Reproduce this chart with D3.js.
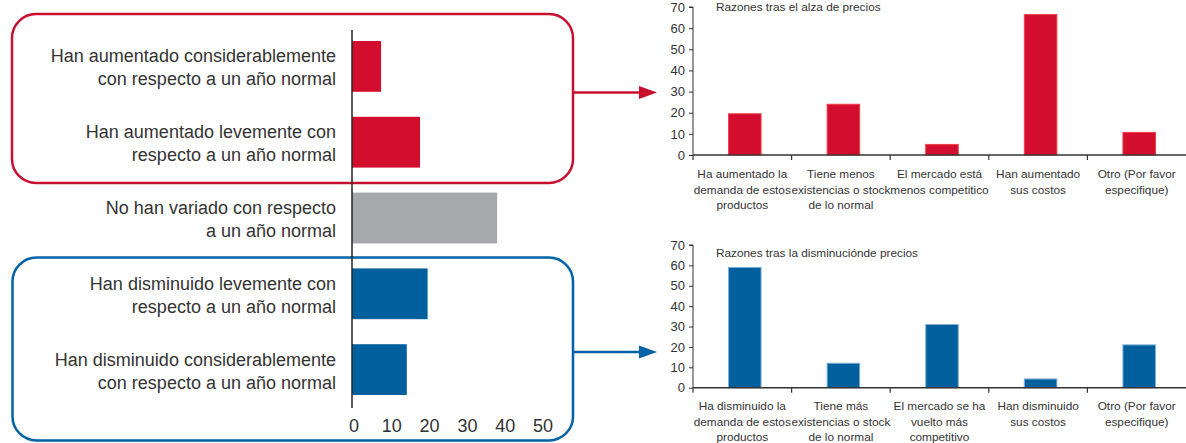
<!DOCTYPE html>
<html><head><meta charset="utf-8">
<script src="https://cdn.jsdelivr.net/npm/d3@7"></script>
<style>
html,body{margin:0;padding:0;background:#fff;}
svg{display:block;font-family:"Liberation Sans",Arial,sans-serif;}
</style></head>
<body>
<svg id="c" width="1186" height="443"></svg>
<script>
// ---- Data ----
const mainCategories = [
  ["Han aumentado considerablemente","con respecto a un año normal"],
  ["Han aumentado levemente con","respecto a un año normal"],
  ["No han variado con respecto","a un año normal"],
  ["Han disminuido levemente con","respecto a un año normal"],
  ["Han disminuido considerablemente","con respecto a un año normal"]
];
const mainValues = [7.7, 18, 38.4, 20, 14.5];
const mainGroups = ["up","up","flat","down","down"];
const mainTicks = [0,10,20,30,40,50];

const upTitle = "Razones tras el alza de precios";
const upCategories = [
  ["Ha aumentado la","demanda de estos","productos"],
  ["Tiene menos","existencias o stock","de lo normal"],
  ["El mercado está","menos competitico"],
  ["Han aumentado","sus costos"],
  ["Otro (Por favor","especifique)"]
];
const upValues = [19.5, 24, 5, 66.4, 10.7];

const downTitle = "Razones tras la disminuciónde precios";
const downCategories = [
  ["Ha disminuido la","demanda de estos","productos"],
  ["Tiene más","existencias o stock","de lo normal"],
  ["El mercado se ha","vuelto más","competitivo"],
  ["Han disminuido","sus costos"],
  ["Otro (Por favor","especifique)"]
];
const downValues = [59, 12, 31, 4.3, 21];
const sideTicks = [0,10,20,30,40,50,60,70];

const RED = "#d30d2e", BLUE = "#00609d", GRAY = "#a7a8ab";
const colorOf = {up: RED, flat: GRAY, down: BLUE};
const TEXT = "#333";

const svg = d3.select("#c");

// ---- Group boxes & arrows ----
svg.append("rect").attr("x",12).attr("y",14).attr("width",561).attr("height",169)
  .attr("rx",24).attr("ry",24).attr("fill","none").attr("stroke","#c8102e").attr("stroke-width",2.5);
svg.append("rect").attr("x",12.5).attr("y",257.5).attr("width",560.5).attr("height",183)
  .attr("rx",24).attr("ry",24).attr("fill","none").attr("stroke","#0063a6").attr("stroke-width",2.5);

function arrow(y, color){
  svg.append("line").attr("x1",573).attr("x2",641).attr("y1",y).attr("y2",y)
    .attr("stroke",color).attr("stroke-width",2.5);
  svg.append("path").attr("d",`M639,${y-6.5} L657,${y} L639,${y+6.5} Z`).attr("fill",color);
}
arrow(92.5, "#c8102e");
arrow(352, "#0063a6");

// ---- Main horizontal bar chart ----
const x = d3.scaleLinear().domain([0,50]).range([352, 541]);
const y = d3.scaleBand().domain(d3.range(mainValues.length)).range([28.5, 407.5]).paddingInner(0.33).paddingOuter(0.165);

svg.append("g").selectAll("rect").data(mainValues).join("rect")
  .attr("x", x(0)).attr("y",(d,i)=>y(i)).attr("width",d=>x(d)-x(0)).attr("height",y.bandwidth())
  .attr("fill",(d,i)=>colorOf[mainGroups[i]]);

svg.append("line").attr("x1",352).attr("x2",352).attr("y1",30).attr("y2",408)
  .attr("stroke","#222").attr("stroke-width",1.5);

const lab = svg.append("g").attr("font-size",18).attr("fill",TEXT).attr("text-anchor","end");
mainCategories.forEach((lines,i)=>{
  const cy = y(i)+y.bandwidth()/2;
  const t = lab.append("text").attr("x",336);
  lines.forEach((s,j)=>t.append("tspan").attr("x",336).attr("y",cy-4+j*23).text(s));
});

const xAxis = svg.append("g").attr("transform","translate(2,0)");
xAxis.selectAll("text").data(mainTicks).join("text")
  .attr("x",d=>x(d)).attr("y",432).attr("text-anchor","middle")
  .attr("font-size",18).attr("fill",TEXT).text(d=>d);

// ---- Side column charts ----
function sideChart(top, bottom, cats, vals, title, color, edge, titleY, labelY0){
  const xs = d3.scaleBand().domain(d3.range(cats.length)).range([695.5,1188.5]).paddingInner(0.67).paddingOuter(0.335);
  const xb = d3.scaleBand().domain(d3.range(cats.length)).range([693,1186]);
  const ys = d3.scaleLinear().domain([0,70]).range([bottom, top]);
  const g = svg.append("g");
  g.selectAll("rect").data(vals).join("rect")
    .attr("x",(d,i)=>xs(i)).attr("y",d=>ys(d)).attr("width",xs.bandwidth()).attr("height",d=>ys(0)-ys(d))
    .attr("fill",color).attr("stroke",edge).attr("stroke-width",1);
  // y axis
  const ya = g.append("g").attr("transform","translate(693,0)")
    .call(d3.axisLeft(ys).tickValues(sideTicks).tickSize(4).tickPadding(4));
  ya.select(".domain").attr("stroke","#333").attr("d",`M-4,${ys(70)}H0V${ys(0)}`);
  ya.selectAll("line").attr("stroke","#333");
  ya.selectAll("text").attr("font-size",13).attr("fill",TEXT).attr("font-family","Liberation Sans, Arial, sans-serif");
  // x axis
  g.append("line").attr("x1",693).attr("x2",1186).attr("y1",ys(0)).attr("y2",ys(0)).attr("stroke","#333").attr("stroke-width",1.5);
  g.selectAll(".bt").data(d3.range(cats.length)).join("line").attr("class","bt")
    .attr("x1",i=>xb(i)).attr("x2",i=>xb(i)).attr("y1",ys(0)).attr("y2",ys(0)+5).attr("stroke","#333").attr("stroke-width",1.2);
  // category labels
  cats.forEach((lines,i)=>{
    const cx = xb(i)+xb.bandwidth()/2;
    const t = g.append("text").attr("text-anchor","middle").attr("font-size",11.8).attr("fill",TEXT);
    lines.forEach((s,j)=>t.append("tspan").attr("x",cx).attr("y",labelY0+j*15.5).text(s));
  });
  g.append("text").attr("x",716).attr("y",titleY).attr("font-size",11.8).attr("fill",TEXT).text(title);
}
sideChart(7, 155, upCategories, upValues, upTitle, RED, "#ef4048", 10.5, 178);
sideChart(245, 387.7, downCategories, downValues, downTitle, BLUE, "#7fb0d6", 257, 410);
</script>
</body></html>
